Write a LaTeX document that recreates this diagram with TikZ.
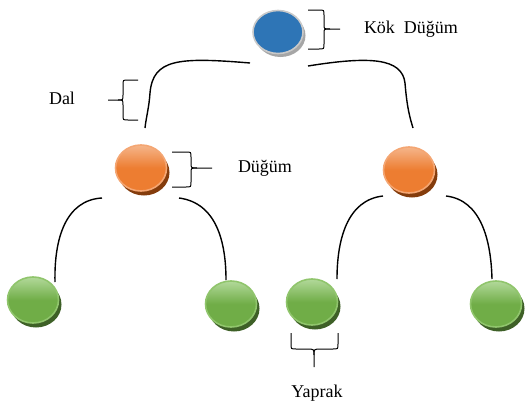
\documentclass[tikz,border=0pt]{standalone}
\usepackage{fontspec}
\setmainfont{Liberation Serif}
\usetikzlibrary{shapes.geometric,shadows,calc}
\definecolor{blueN}{HTML}{2E75B6}
\definecolor{blueB}{HTML}{C9C9C9}
\definecolor{blueS}{HTML}{A6A6A6}
\definecolor{orangeN}{HTML}{ED7D31}
\definecolor{orangeT}{HTML}{F5B58A}
\definecolor{orangeB}{HTML}{F4A673}
\definecolor{orangeS}{HTML}{843C0C}
\definecolor{greenN}{HTML}{70AD47}
\definecolor{greenT}{HTML}{B2D99A}
\definecolor{greenB}{HTML}{90C56C}
\definecolor{greenS}{HTML}{3E6027}
\tikzset{
  ball/.style={ellipse, inner sep=0pt, minimum width=51pt, minimum height=46pt, line width=1.6pt},
  rootball/.style={ball, minimum width=50pt, minimum height=43pt, fill=blueN, draw=blueB,
    general shadow={fill=blueS, shadow xshift=2.5pt, shadow yshift=-3.5pt}},
  midball/.style={ball, top color=orangeT, bottom color=orangeN, middle color=orangeN, draw=orangeB,
    general shadow={fill=orangeS, shadow xshift=3pt, shadow yshift=-4.5pt}},
  leafball/.style={ball, top color=greenT, bottom color=greenN, middle color=greenN, draw=greenB,
    general shadow={fill=greenS, shadow xshift=3pt, shadow yshift=-4.5pt}},
  link/.style={line width=1.4pt, black},
  bracket/.style={line width=1pt, black},
  lbl/.style={font=\fontsize{18}{21}\selectfont, inner sep=0pt}
}
\begin{document}
\begin{tikzpicture}[x=1pt, y=-1pt]
\useasboundingbox (0,0) rectangle (525,407);
% nodes
\node[rootball] (root) at (278,32) {};
\node[midball] (m1) at (141,168) {};
\node[midball] (m2) at (409,170) {};
\node[leafball] (l1) at (33,300) {};
\node[leafball] (l2) at (231,304) {};
\node[leafball] (l3) at (312,302) {};
\node[leafball] (l4) at (496,304) {};
% labels
\node[lbl] (kok) at (411,29) {Kök\ \ Düğüm};
\node[lbl] (dal) at (62,98) {Dal};
\node[lbl] (dugum) at (265,168) {Düğüm};
\node[lbl] (yaprak) at (317,393) {Yaprak};
% connectors
\draw[link] ($(root)+(-28,31)$) .. controls ($(root)+(-100,25)$) and ($(root)+(-125,27)$) .. ($(m1)+(9,-75)$)
  .. controls ($(m1)+(8,-60)$) and ($(m1)+(5,-50)$) .. ($(m1)+(4,-40)$);
\draw[link] ($(root)+(30,34)$) .. controls ($(root)+(92,24)$) and ($(root)+(124,26)$) .. ($(m2)+(-4,-87)$)
  .. controls ($(m2)+(-2,-62)$) and ($(m2)+(1,-52)$) .. ($(m2)+(4,-42)$);
\draw[link] ($(m1)+(-39,30)$) .. controls ($(m1)+(-75,32)$) and ($(m1)+(-87,70)$) .. ($(l1)+(22,-18)$);
\draw[link] ($(m1)+(38,30)$) .. controls ($(m1)+(76,35)$) and ($(m1)+(85,75)$) .. ($(l2)+(-5,-24)$);
\draw[link] ($(m2)+(-26,26)$) .. controls ($(m2)+(-62,30)$) and ($(m2)+(-72,70)$) .. ($(l3)+(25,-23)$);
\draw[link] ($(m2)+(37,26)$) .. controls ($(m2)+(72,30)$) and ($(m2)+(82,70)$) .. ($(l4)+(-4,-25)$);
% brackets
% root bracket (points right)
\draw[bracket] ($(root)+(30,-22)$) -- ($(root)+(41,-22)$) .. controls ($(root)+(46,-22)$) .. ($(root)+(46,-17)$)
  -- ($(root)+(46,-7)$) .. controls ($(root)+(46,-3)$) .. ($(root)+(52,-3)$) -- ($(root)+(62,-3)$);
\draw[bracket] ($(root)+(30,17)$) -- ($(root)+(41,17)$) .. controls ($(root)+(46,17)$) .. ($(root)+(46,12)$)
  -- ($(root)+(46,1)$) .. controls ($(root)+(46,-3)$) .. ($(root)+(52,-3)$);
% Dal bracket (points left)
\coordinate (dalb) at (123,100);
\draw[bracket] ($(dalb)+(15,-20)$) -- ($(dalb)+(5,-20)$) .. controls ($(dalb)+(0,-20)$) .. ($(dalb)+(0,-15)$)
  -- ($(dalb)+(0,-5)$) .. controls ($(dalb)+(0,0)$) .. ($(dalb)+(-5,0)$) -- ($(dalb)+(-15,0)$);
\draw[bracket] ($(dalb)+(15,20)$) -- ($(dalb)+(5,20)$) .. controls ($(dalb)+(0,20)$) .. ($(dalb)+(0,15)$)
  -- ($(dalb)+(0,5)$) .. controls ($(dalb)+(0,0)$) .. ($(dalb)+(-5,0)$);
% Dugum bracket (points right)
\draw[bracket] ($(m1)+(31,-16)$) -- ($(m1)+(45,-16)$) .. controls ($(m1)+(50,-16)$) .. ($(m1)+(50,-11)$)
  -- ($(m1)+(50,-5)$) .. controls ($(m1)+(50,0)$) .. ($(m1)+(56,0)$) -- ($(m1)+(71,0)$);
\draw[bracket] ($(m1)+(31,19)$) -- ($(m1)+(45,19)$) .. controls ($(m1)+(50,19)$) .. ($(m1)+(50,14)$)
  -- ($(m1)+(50,5)$) .. controls ($(m1)+(50,0)$) .. ($(m1)+(56,0)$);
% Yaprak bracket (points down)
\draw[bracket] ($(l3)+(-21,31)$) -- ($(l3)+(-21,42)$) .. controls ($(l3)+(-21,47)$) .. ($(l3)+(-16,47)$)
  -- ($(l3)+(-5,47)$) .. controls ($(l3)+(2,47)$) .. ($(l3)+(2,53)$) -- ($(l3)+(2,65)$);
\draw[bracket] ($(l3)+(26,31)$) -- ($(l3)+(26,42)$) .. controls ($(l3)+(26,47)$) .. ($(l3)+(21,47)$)
  -- ($(l3)+(9,47)$) .. controls ($(l3)+(2,47)$) .. ($(l3)+(2,53)$);
\end{tikzpicture}
\end{document}
